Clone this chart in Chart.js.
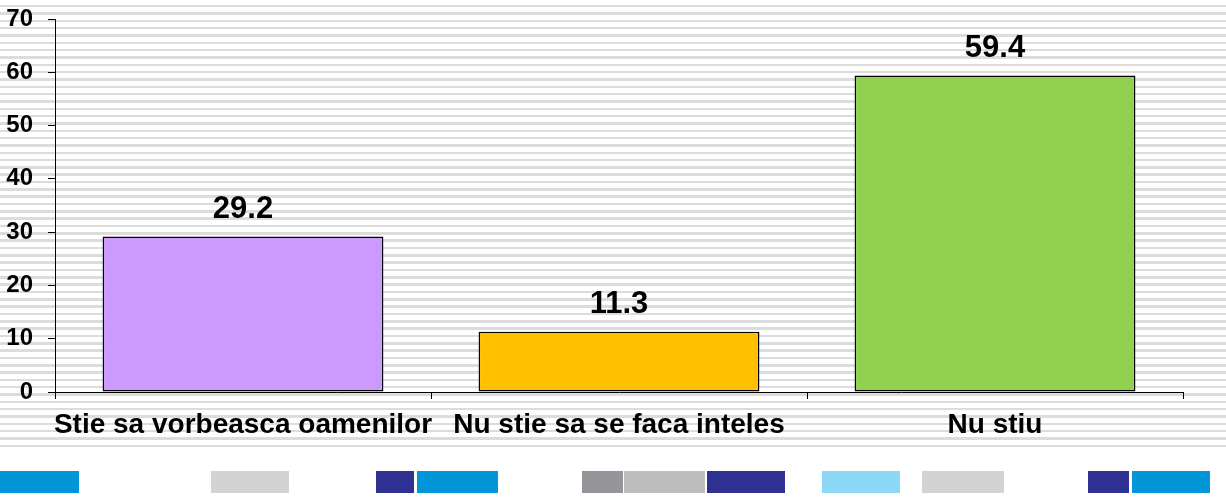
<!DOCTYPE html>
<html>
<head>
<meta charset="utf-8">
<script src="https://cdn.jsdelivr.net/npm/chart.js@4.4.1/dist/chart.umd.min.js"></script>
<style>
  html, body { margin: 0; padding: 0; background: #fff; }
  body { width: 1226px; height: 504px; position: relative; overflow: hidden; }
  #stripes {
    position: absolute; left: 0; top: 0; width: 1226px; height: 452px;
    background: repeating-linear-gradient(to bottom, #ffffff 0px, #ffffff 4.9px, #dcdcdc 4.9px, #dcdcdc 7.33px);
  }
  #wrap { position: absolute; left: 0; top: 0; width: 1226px; height: 460px; }
  .deco { position: absolute; top: 471px; height: 22px; }
</style>
</head>
<body>
<div id="stripes"></div>
<div id="wrap"><canvas id="chart" width="1226" height="460"></canvas></div>

<div class="deco" style="left:0px;width:79px;background:#0096d8"></div>
<div class="deco" style="left:211px;width:78px;background:#d1d3d5"></div>
<div class="deco" style="left:376px;width:38px;background:#2e3192"></div>
<div class="deco" style="left:417px;width:81px;background:#0096d8"></div>
<div class="deco" style="left:582px;width:41px;background:#939598"></div>
<div class="deco" style="left:624px;width:81px;background:#bbbdbf"></div>
<div class="deco" style="left:707px;width:78px;background:#2e3192"></div>
<div class="deco" style="left:822px;width:78px;background:#8dd7f7"></div>
<div class="deco" style="left:922px;width:82px;background:#d1d3d5"></div>
<div class="deco" style="left:1088px;width:41px;background:#2e3192"></div>
<div class="deco" style="left:1132px;width:78px;background:#0096d8"></div>

<script>
const categories = ["Stie sa vorbeasca oamenilor", "Nu stie sa se faca inteles", "Nu stiu"];
const values = [29.2, 11.3, 59.4];
const barColors = ["#cc99ff", "#ffc000", "#92d050"];
const yTicks = [0, 10, 20, 30, 40, 50, 60, 70];

const FONT = "'Liberation Sans', Arial, sans-serif";

// draws the value above each bar
const valueLabels = {
  id: "valueLabels",
  afterDatasetsDraw(chart) {
    const ctx = chart.ctx;
    const meta = chart.getDatasetMeta(0);
    ctx.save();
    ctx.font = "bold 31px " + FONT;
    ctx.fillStyle = "#000";
    ctx.textAlign = "center";
    ctx.textBaseline = "alphabetic";
    meta.data.forEach((bar, i) => {
      ctx.fillText(values[i].toFixed(1), bar.x, bar.y - 18.5);
    });
    ctx.restore();
  }
};

const ctx = document.getElementById("chart").getContext("2d");
const chart = new Chart(ctx, {
  type: "bar",
  data: {
    labels: categories,
    datasets: [
      {
        data: values,
        backgroundColor: barColors,
        borderColor: "#000",
        borderWidth: 1.5,
        borderSkipped: false,
        categoryPercentage: 1,
        barPercentage: 0.747,
      },
    ],
  },
  options: {
    responsive: false,
    animation: false,
    devicePixelRatio: 1,
    layout: { padding: { top: 19, right: 43, left: 0, bottom: 0 } },
    plugins: {
      legend: { display: false },
      tooltip: { enabled: false },
    },
    scales: {
      x: {
        offset: true,
        grid: {
          offset: true,
          drawOnChartArea: false,
          drawTicks: true,
          tickLength: 7,
          color: "#000",
        },
        border: { color: "#000", width: 1 },
        ticks: {
          color: "#000",
          font: { family: FONT, size: 28, weight: "bold" },
          maxRotation: 0,
          minRotation: 0,
          autoSkip: false,
          padding: 9,
        },
        afterFit(scale) { scale.height = 68; },
      },
      y: {
        min: 0,
        max: 70,
        afterBuildTicks(scale) { scale.ticks = yTicks.map(v => ({ value: v })); },
        grid: {
          drawOnChartArea: false,
          drawTicks: true,
          tickLength: 7,
          color: "#000",
        },
        border: { color: "#000", width: 1 },
        ticks: {
          color: "#000",
          font: { family: FONT, size: 24, weight: "bold" },
          padding: 15,
        },
        afterFit(scale) {
          scale.width = 55;
          scale.paddingTop = 0;
          scale.paddingBottom = 0;
        },
      },
    },
  },
  plugins: [valueLabels],
});
</script>
</body>
</html>
